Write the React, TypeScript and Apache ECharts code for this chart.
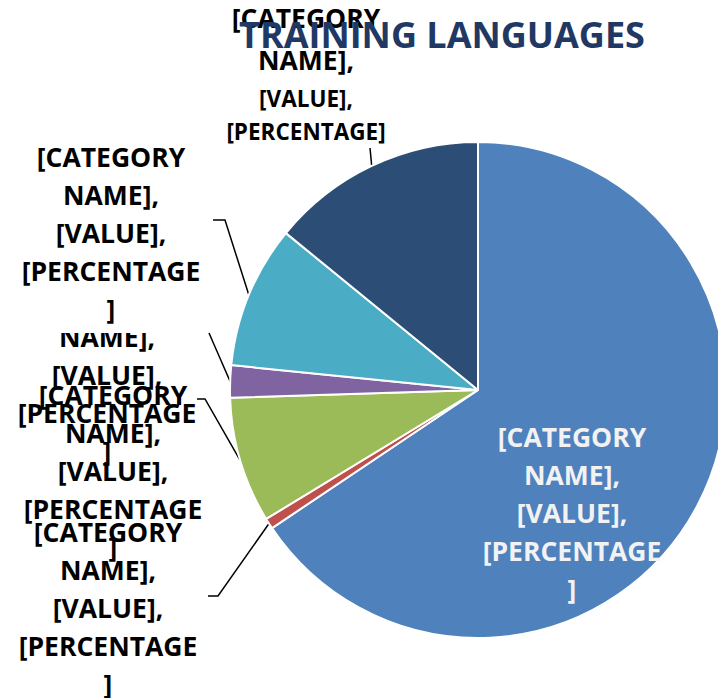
import React, { useEffect, useRef } from "react";
import * as echarts from "echarts";

const categories = ["Language A", "Language B", "Language C", "Language D", "Language E", "Language F"];
const values = [656, 7, 82, 21, 93, 141];
const colors = ["#4f81bd", "#c0504d", "#9bbb59", "#8064a2", "#4bacc6", "#2c4d75"];
const labelText = "[CATEGORY\nNAME],\n[VALUE],\n[PERCENTAGE\n]";
const topLabelText = "{a|[CATEGORY}\n{a|NAME],}\n{b|[VALUE],}\n{c|[PERCENTAGE]}";

// label anchor (center x, top y) and elbow points for the leader lines
const labelPos: [number, number][] = [
  [572, 418],
  [108, 513],
  [113, 376],
  [107, 280],
  [111, 138],
  [306, -3],
];
const elbows: [number, number][][] = [
  [],
  [[218, 596], [208, 596]],
  [[205, 399], [197, 399]],
  [[209, 333]],
  [[225, 220], [213, 220]],
  [[370, 148]],
];

const FONT = "'Open Sans', sans-serif";

export default function App() {
  const ref = useRef<HTMLDivElement>(null);
  useEffect(() => {
    document.body.style.margin = "0";
    const chart = echarts.init(ref.current!, null, { renderer: "svg" });
    const data = values.map((v, i) => {
      const item: any = {
        name: categories[i],
        value: v,
        itemStyle: { color: colors[i] },
      };
      if (i === 0) {
        item.label = { position: "inside", color: "#f2f2f2", formatter: labelText };
        item.labelLine = { show: false };
      } else if (i === 4) {
        item.label = { backgroundColor: "#ffffff", padding: [0, 0, 5, 0] };
      } else if (i === 5) {
        item.label = {
          formatter: topLabelText,
          rich: {
            a: { fontSize: 26.5, lineHeight: 42, fontWeight: "bold", fontFamily: FONT, color: "#000" },
            b: { fontSize: 22.5, lineHeight: 35, fontWeight: "bold", fontFamily: FONT, color: "#000" },
            c: { fontSize: 22.5, lineHeight: 30, fontWeight: "bold", fontFamily: FONT, color: "#000" },
          },
        };
      }
      return item;
    });
    chart.setOption({
      animation: false,
      title: {
        text: "TRAINING LANGUAGES",
        left: 437,
        top: 11,
        textAlign: "center",
        textStyle: { fontFamily: FONT, fontSize: 36, fontWeight: "bold", color: "#1f3864" },
      },
      series: [
        {
          type: "pie",
          center: [478, 390],
          radius: 248,
          startAngle: 90,
          clockwise: true,
          avoidLabelOverlap: false,
          itemStyle: { borderColor: "#ffffff", borderWidth: 2 },
          label: {
            show: true,
            position: "outside",
            formatter: labelText,
            fontFamily: FONT,
            fontSize: 26.5,
            fontWeight: "bold",
            lineHeight: 38,
            color: "#000",
            align: "center",
          },
          labelLine: {
            show: true,
            length: 5,
            length2: 5,
            lineStyle: { color: "#000", width: 1.5 },
          },
          labelLayout: (params: any) => {
            const i = params.dataIndex;
            const [x, y] = labelPos[i];
            const out: any = { x, y, align: "center", verticalAlign: "top" };
            if (i !== 0 && params.labelLinePoints) {
              out.labelLinePoints = [params.labelLinePoints[0], ...elbows[i]];
            }
            return out;
          },
          emphasis: { disabled: true },
          data,
        },
      ],
    });
    return () => chart.dispose();
  }, []);
  return <div ref={ref} style={{ width: 718, height: 698 }} />;
}
